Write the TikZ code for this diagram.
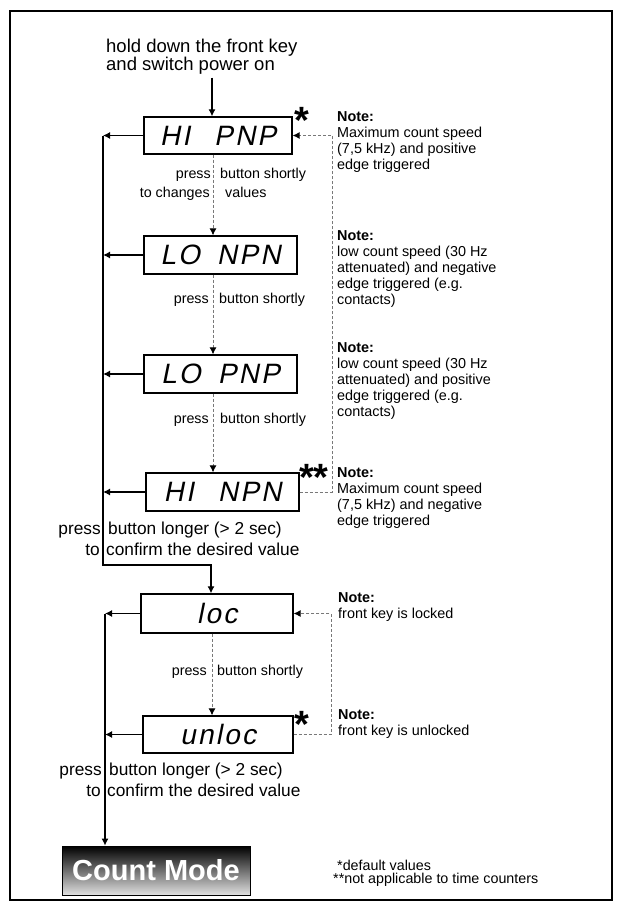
\documentclass[tikz,border=0pt]{standalone}
\usepackage{fontspec}
\setmainfont{Liberation Sans}
\newfontfamily\segfont{Liberation Sans}[FakeSlant=0.2,LetterSpace=8]
\usetikzlibrary{arrows.meta}
\definecolor{dgrey}{RGB}{120,120,120}
\begin{document}
\begin{tikzpicture}[x=1pt,y=-1pt,
  sline/.style={line width=1.2pt, draw=black},
  sarrow/.style={sline, -{Latex[length=7pt,width=7pt]}},
  dline/.style={line width=0.9pt, draw=dgrey, dash pattern=on 3pt off 2pt},
  darrow/.style={dline, -{Latex[length=7pt,width=7pt,color=black]}},
  disp/.style={draw=black, line width=1.3pt, inner sep=0, font=\segfont\fontsize{28}{28}\selectfont},
  lbl/.style={font=\fontsize{14.3}{16}\selectfont, inner sep=0},
  big/.style={font=\fontsize{17.3}{21}\selectfont, inner sep=0},
  note/.style={font=\fontsize{14.4}{16}\selectfont, inner sep=0, align=left, anchor=north west},
  star/.style={font=\bfseries\fontsize{38}{38}\selectfont, inner sep=0}
]
\useasboundingbox (0,0) rectangle (623,911);
\draw[line width=1.2pt] (10,11) rectangle (612,900);

% top text
\node[font=\fontsize{18.5}{16}\selectfont, align=left, anchor=north west, inner sep=0] (top) at (106,38.7) {hold down the front key\\and switch power on};

% display boxes
\node[disp, minimum width=148pt, minimum height=37pt] (b1) at (218,135.5) {HI\hspace{24pt}PNP};
\node[disp, minimum width=153pt, minimum height=38pt] (b2) at (220.5,255) {LO\hspace{17pt}NPN};
\node[disp, minimum width=153pt, minimum height=38pt] (b3) at (220.5,374) {LO\hspace{17pt}PNP};
\node[disp, minimum width=153pt, minimum height=38pt] (b4) at (222.5,492) {HI\hspace{24pt}NPN};
\node[disp, minimum width=152pt, minimum height=39pt] (b5) at (217,613.5) {loc};
\node[disp, minimum width=150pt, minimum height=37pt] (b6) at (218,734.5) {unloc};
\node[draw=black, line width=0.8pt, minimum width=188pt, minimum height=49pt,
      top color=black, middle color=black!75, bottom color=black!12,
      text=white, font=\bfseries\fontsize{29}{29}\selectfont, inner sep=0] (cm) at (156,870.5) {Count Mode};

% stars
\node[star] (s1) at (302,120.5) {*};
\node[star] (s2) at (314,477.5) {**};
\node[star] (s3) at (302,724.5) {*};

% coordinates
\coordinate (m1) at (212,0);
\coordinate (m2) at (213,0);
\coordinate (m3) at (212,0);
\coordinate (L1) at (103,0);
\coordinate (L2) at (105,0);
\coordinate (k1) at (103,565);
\coordinate (k2) at (211,565);
\coordinate (R1) at (332,0);
\coordinate (R2) at (331,0);

% top arrow
\draw[sarrow] ([yshift=-3pt]top.south -| m1) -- (b1.north -| m1);

% dashed downward arrows
\draw[darrow] (b1.south -| m2) -- (b2.north -| m2);
\draw[darrow] (b2.south -| m2) -- (b3.north -| m2);
\draw[darrow] (b3.south -| m2) -- (b4.north -| m2);
\draw[darrow] (b5.south -| m3) -- (b6.north -| m3);

% left solid line 1
\draw[sarrow] (b1.west) -- (b1.west -| L1);
\draw[sarrow] (b2.west) -- (b2.west -| L1);
\draw[sarrow] (b3.west) -- (b3.west -| L1);
\draw[sarrow] (b4.west) -- (b4.west -| L1);
\draw[sarrow] (b1.west -| L1) -- (k1) -- (k2) -- (b5.north -| k2);

% left solid line 2
\draw[sarrow] (b5.west) -- (b5.west -| L2);
\draw[sarrow] (b6.west) -- (b6.west -| L2);
\draw[sarrow] (b5.west -| L2) -- (cm.north -| L2);

% right dashed loops
\draw[darrow] (b4.east) -- (b4.east -| R1) -- (b1.east -| R1) -- (b1.east);
\draw[darrow] (b6.east) -- (b6.east -| R2) -- (b5.east -| R2) -- (b5.east);

% small labels
\node[lbl, anchor=mid east] (p1a) at (211,176) {press};
\node[lbl, anchor=mid west] (p1b) at (220,176) {button shortly};
\node[lbl, anchor=mid east] (p1c) at (210,195) {to changes};
\node[lbl, anchor=mid west] (p1d) at (225,195) {values};
\node[lbl, anchor=mid east] (p2a) at (209,301) {press};
\node[lbl, anchor=mid west] (p2b) at (219,301) {button shortly};
\node[lbl, anchor=mid east] (p3a) at (209,421) {press};
\node[lbl, anchor=mid west] (p3b) at (220,421) {button shortly};
\node[lbl, anchor=mid east] (p4a) at (207,673) {press};
\node[lbl, anchor=mid west] (p4b) at (217,673) {button shortly};

% big labels
\node[big, anchor=mid east] (q1a) at (101,532) {press};
\node[big, anchor=mid west] (q1b) at (108,532) {button longer (> 2 sec)};
\node[big, anchor=mid east] (q1c) at (100,553) {to};
\node[big, anchor=mid west] (q1d) at (106,553) {confirm the desired value};
\node[big, anchor=mid east] (q2a) at (102,773) {press};
\node[big, anchor=mid west] (q2b) at (109,773) {button longer (> 2 sec)};
\node[big, anchor=mid east] (q2c) at (101,794) {to};
\node[big, anchor=mid west] (q2d) at (107,794) {confirm the desired value};

% notes
\node[note] (n1) at (337,111.8) {\textbf{Note:}\\Maximum count speed\\(7,5 kHz) and positive\\edge triggered};
\node[note] (n2) at (337,230.8) {\textbf{Note:}\\low count speed (30 Hz\\attenuated) and negative\\edge triggered (e.g.\\contacts)};
\node[note] (n3) at (337,342.8) {\textbf{Note:}\\low count speed (30 Hz\\attenuated) and positive\\edge triggered (e.g.\\contacts)};
\node[note] (n4) at (337,467.8) {\textbf{Note:}\\Maximum count speed\\(7,5 kHz) and negative\\edge triggered};
\node[note] (n5) at (338,592.8) {\textbf{Note:}\\front key is locked};
\node[note] (n6) at (338,709.8) {\textbf{Note:}\\front key is unlocked};

% footer
\node[lbl, anchor=mid west] (f1) at (337,868) {*default values};
\node[lbl, anchor=mid west] (f2) at (333,881) {**not applicable to time counters};
\end{tikzpicture}
\end{document}
